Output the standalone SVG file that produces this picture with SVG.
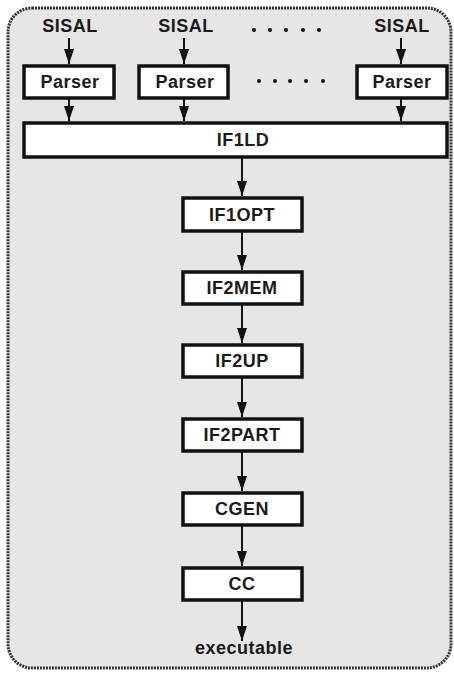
<svg xmlns="http://www.w3.org/2000/svg" width="454" height="673" viewBox="0 0 454 673">
<style>
.box{fill:#fff;stroke:#111;stroke-width:3.5}
.lbl{font-family:"Liberation Sans",Arial,sans-serif;font-weight:bold;font-size:18px;fill:#1a1a1a;text-anchor:middle;letter-spacing:0.5px}
.edge{stroke:#111;stroke-width:2;fill:none}
.dot{fill:#111}
</style>
<defs>
<marker id="ah" markerUnits="userSpaceOnUse" markerWidth="16" markerHeight="12" refX="15" refY="5" orient="auto">
<path d="M0,0 L15,5 L0,10 Z" fill="#111"/>
</marker>
</defs>
<rect x="8" y="8" width="443" height="660" rx="24" ry="24" fill="#e6e6e6" stroke="#333" stroke-width="3" stroke-dasharray="2 1"/>
<g id="inputs">
<text class="lbl" x="70" y="32">SISAL</text>
<text class="lbl" x="186" y="32">SISAL</text>
<text class="lbl" x="402" y="32">SISAL</text>
<g id="dots1">
<circle class="dot" cx="254" cy="30" r="2"/><circle class="dot" cx="270" cy="30" r="2"/><circle class="dot" cx="286" cy="30" r="2"/><circle class="dot" cx="303" cy="30" r="2"/><circle class="dot" cx="319" cy="30" r="2"/>
</g>
<g id="dots2">
<circle class="dot" cx="259" cy="81" r="2"/><circle class="dot" cx="275" cy="81" r="2"/><circle class="dot" cx="290" cy="81" r="2"/><circle class="dot" cx="306" cy="81" r="2"/><circle class="dot" cx="323" cy="81" r="2"/>
</g>
</g>
<g id="parser1"><rect class="box" x="24" y="66" width="90" height="32"/><text class="lbl" x="70" y="88">Parser</text></g>
<g id="parser2"><rect class="box" x="139" y="66" width="89" height="32"/><text class="lbl" x="185" y="88">Parser</text></g>
<g id="parser3"><rect class="box" x="357" y="66" width="90" height="32"/><text class="lbl" x="402" y="88">Parser</text></g>
<g id="if1ld"><rect class="box" x="24" y="123" width="423" height="34"/><text class="lbl" x="243" y="146">IF1LD</text></g>
<g id="if1opt"><rect class="box" x="183" y="198" width="119" height="33"/><text class="lbl" x="242" y="221">IF1OPT</text></g>
<g id="if2mem"><rect class="box" x="183" y="272" width="119" height="32"/><text class="lbl" x="242" y="294">IF2MEM</text></g>
<g id="if2up"><rect class="box" x="183" y="345" width="119" height="32"/><text class="lbl" x="242" y="367">IF2UP</text></g>
<g id="if2part"><rect class="box" x="183" y="419" width="119" height="32"/><text class="lbl" x="242" y="441">IF2PART</text></g>
<g id="cgen"><rect class="box" x="183" y="493" width="119" height="32"/><text class="lbl" x="242" y="515">CGEN</text></g>
<g id="cc"><rect class="box" x="183" y="568" width="119" height="32"/><text class="lbl" x="242" y="590">CC</text></g>
<g id="executable"><text class="lbl" x="244" y="654">executable</text></g>
<g id="connectors">
<line class="edge" x1="69" y1="38" x2="69" y2="64" marker-end="url(#ah)"/>
<line class="edge" x1="184" y1="38" x2="184" y2="64" marker-end="url(#ah)"/>
<line class="edge" x1="401" y1="38" x2="401" y2="64" marker-end="url(#ah)"/>
<line class="edge" x1="69" y1="99" x2="69" y2="121" marker-end="url(#ah)"/>
<line class="edge" x1="184" y1="99" x2="184" y2="121" marker-end="url(#ah)"/>
<line class="edge" x1="401" y1="99" x2="401" y2="121" marker-end="url(#ah)"/>
<line class="edge" x1="242" y1="158" x2="242" y2="196" marker-end="url(#ah)"/>
<line class="edge" x1="242" y1="232" x2="242" y2="270" marker-end="url(#ah)"/>
<line class="edge" x1="242" y1="305" x2="242" y2="343" marker-end="url(#ah)"/>
<line class="edge" x1="242" y1="378" x2="242" y2="417" marker-end="url(#ah)"/>
<line class="edge" x1="242" y1="452" x2="242" y2="491" marker-end="url(#ah)"/>
<line class="edge" x1="242" y1="526" x2="242" y2="566" marker-end="url(#ah)"/>
<line class="edge" x1="242" y1="601" x2="242" y2="641" marker-end="url(#ah)"/>
</g>
</svg>
